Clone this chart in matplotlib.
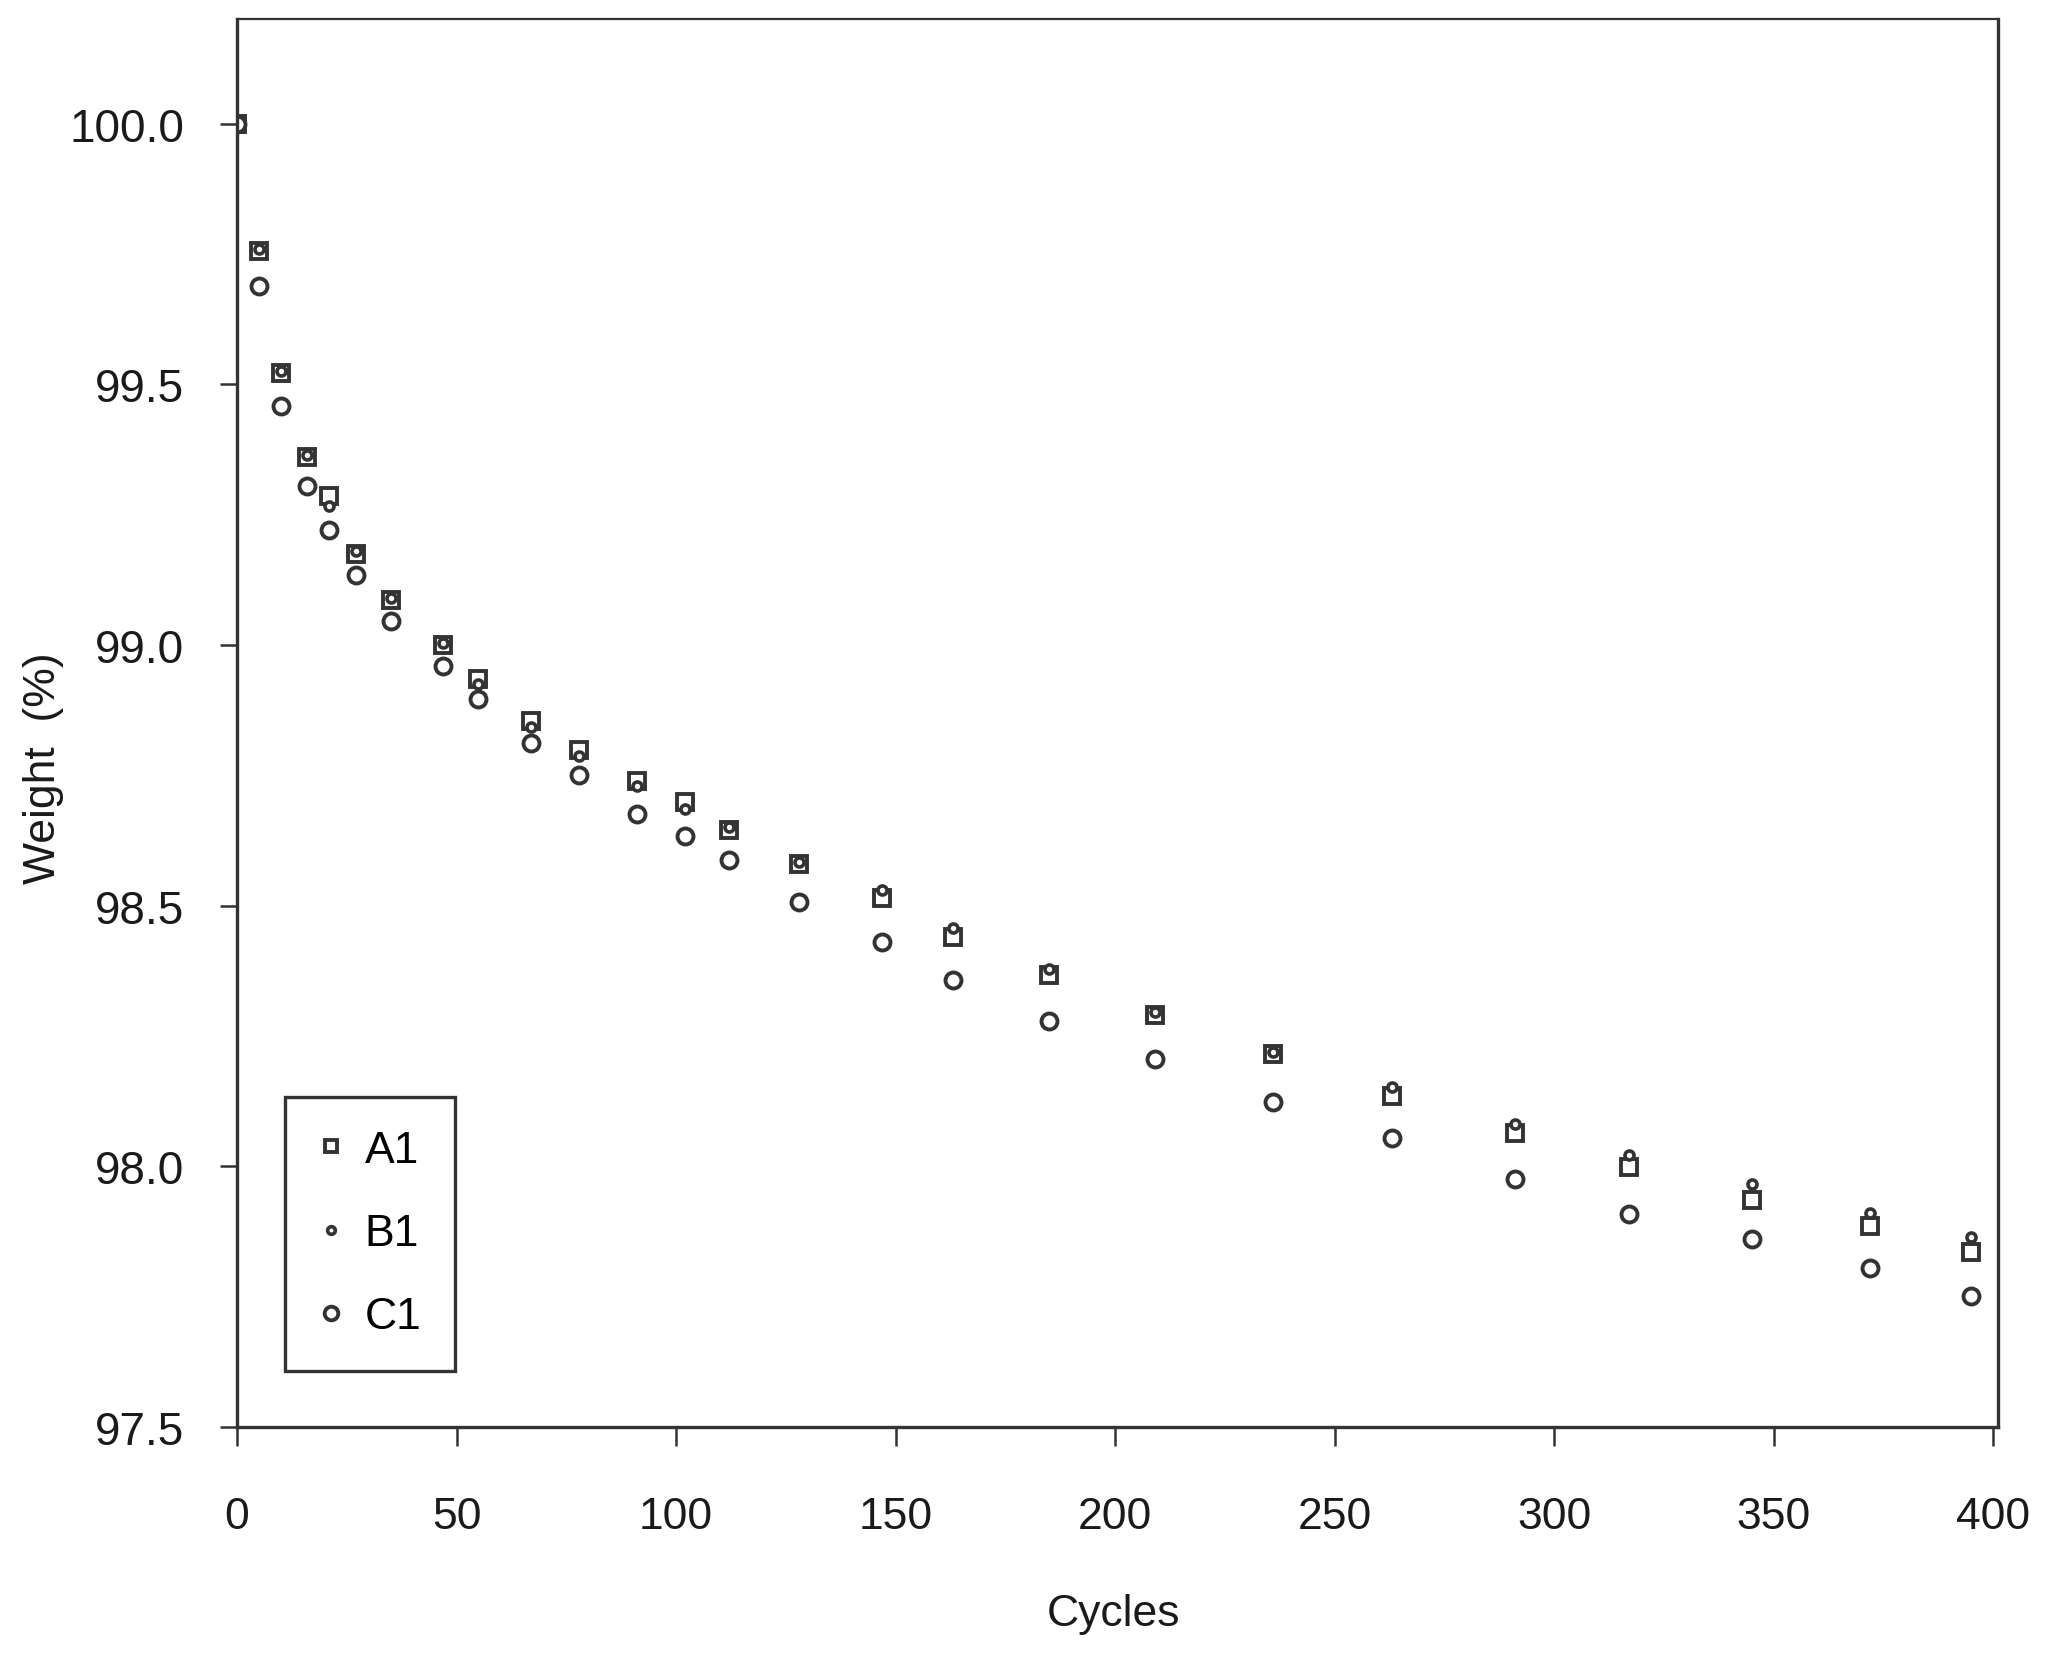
import matplotlib
matplotlib.use("Agg")
import matplotlib.pyplot as plt

plt.rcParams.update({
    "font.family": ["Liberation Sans", "DejaVu Sans"],
    "font.size": 30,
})

# cycles and weight retention (%)
cycles = [0, 5, 10, 16, 21, 27, 35, 47, 55, 67, 78, 91, 102, 112, 128,
          147, 163, 185, 209, 236, 263, 291, 317, 345, 372, 395]
weight_a1 = [100.0, 99.756, 99.522, 99.361, 99.285, 99.174, 99.086, 99.000,
             98.935, 98.855, 98.799, 98.739, 98.698, 98.646, 98.580, 98.515,
             98.439, 98.366, 98.291, 98.215, 98.134, 98.064, 97.999, 97.936,
             97.885, 97.835]
weight_b1 = [100.0, 99.760, 99.525, 99.365, 99.267, 99.180, 99.090, 99.003,
             98.925, 98.842, 98.787, 98.729, 98.686, 98.650, 98.583, 98.530,
             98.457, 98.379, 98.296, 98.220, 98.152, 98.082, 98.021, 97.966,
             97.910, 97.865]
weight_c1 = [100.0, 99.688, 99.459, 99.305, 99.220, 99.134, 99.046, 98.960,
             98.897, 98.812, 98.751, 98.676, 98.633, 98.588, 98.507, 98.431,
             98.358, 98.278, 98.205, 98.124, 98.054, 97.976, 97.908, 97.860,
             97.805, 97.752]

edge = "#333333"
txt = "#1a1a1a"

fig = plt.figure(figsize=(20.57, 16.56), dpi=100)
ax = fig.add_axes([0.1152, 0.1377, 0.856, 0.850])

ax.plot(cycles, weight_a1, ls="none", marker="s", ms=11, mfc="white",
        mec=edge, mew=2.8, label="A1")
ax.plot(cycles, weight_b1, ls="none", marker="o", ms=6.5, mfc="white",
        mec=edge, mew=2.6, label="B1")
ax.plot(cycles, weight_c1, ls="none", marker="o", ms=11.5, mfc="white",
        mec=edge, mew=2.8, label="C1")

ax.set_xlim(0, 401)
ax.set_ylim(97.5, 100.2)
ax.set_xticks(range(0, 401, 50))
ax.set_yticks([97.5, 98.0, 98.5, 99.0, 99.5, 100.0])
ax.set_yticklabels(["97.5", "98.0", "98.5", "99.0", "99.5", "100.0"])

for s in ax.spines.values():
    s.set_color(edge)
    s.set_linewidth(2.4)
ax.spines["top"].set_linewidth(1.6)

ax.tick_params(axis="x", direction="out", length=14, width=1.8, pad=36,
               colors=edge, labelsize=32, labelcolor=txt)
ax.tick_params(axis="y", direction="out", length=12, width=1.8, pad=26,
               colors=edge, labelsize=33, labelcolor=txt)

ax.set_xlabel("Cycles", fontsize=32, color=txt)
ax.set_ylabel("Weight  (%)", fontsize=32, color=txt)
ax.xaxis.set_label_coords(0.498, -0.118)
ax.yaxis.set_label_coords(-0.098, 0.469)

leg = ax.legend(loc="lower left", bbox_to_anchor=(0.027, 0.040),
                borderaxespad=0, fancybox=False, frameon=True,
                fontsize=32, handlelength=0.6, handletextpad=0.45,
                labelspacing=0.95, borderpad=0.75, markerscale=0.85)
leg.get_frame().set_edgecolor(edge)
leg.get_frame().set_linewidth(2.4)
leg.get_frame().set_alpha(1)

fig.savefig("out.png", dpi=100)
